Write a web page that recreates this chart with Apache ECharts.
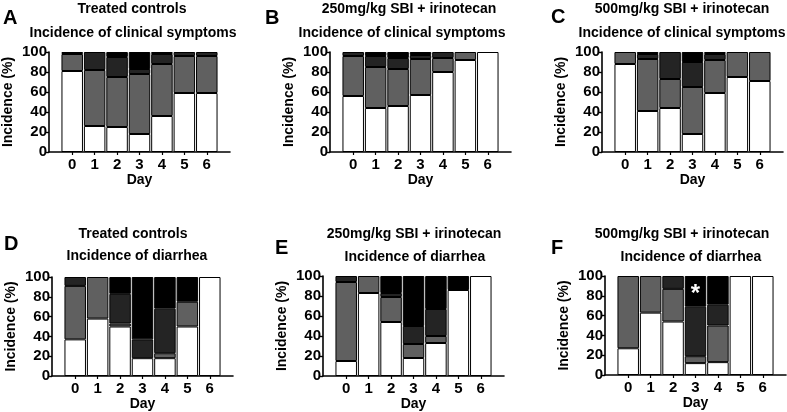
<!DOCTYPE html>
<html>
<head>
<meta charset="utf-8">
<script src="https://cdn.jsdelivr.net/npm/echarts@6/dist/echarts.min.js"></script>
<style>
html,body{margin:0;padding:0;background:#fff;}
#chart{width:787px;height:412px;}
</style>
</head>
<body>
<div id="chart"></div>
<script>
// ---- data ----
const days = ['0', '1', '2', '3', '4', '5', '6'];
const levelNames = ['None', 'Mild', 'Moderate', 'Severe'];
const levelColors = ['#ffffff', '#606060', '#242424', '#000000'];
const yMin = 0, yMax = 100, yStep = 20;

// A: Treated controls, clinical symptoms
const A_none = [81, 26, 25, 18, 36, 59, 59];
const A_mild = [17, 56, 50, 60, 52, 37, 37];
const A_mod  = [2, 18, 20, 5, 10, 4, 4];
const A_sev  = [0, 0, 5, 17, 2, 0, 0];
// B: 250mg/kg SBI + irinotecan, clinical symptoms
const B_none = [56, 44, 46, 57, 80, 92, 100];
const B_mild = [40, 41, 37, 36, 14, 8, 0];
const B_mod  = [4, 11, 11, 4, 6, 0, 0];
const B_sev  = [0, 4, 6, 3, 0, 0, 0];
// C: 500mg/kg SBI + irinotecan, clinical symptoms
const C_none = [88, 41, 44, 18, 59, 75, 71];
const C_mild = [12, 52, 29, 47, 33, 25, 29];
const C_mod  = [0, 5, 27, 25, 6, 0, 0];
const C_sev  = [0, 2, 0, 10, 2, 0, 0];
// D: Treated controls, diarrhea
const D_none = [37, 58, 50, 18, 18, 50, 100];
const D_mild = [54, 42, 3, 0, 5, 25, 0];
const D_mod  = [9, 0, 30, 19, 45, 0, 0];
const D_sev  = [0, 0, 17, 63, 32, 25, 0];
// E: 250mg/kg SBI + irinotecan, diarrhea
const E_none = [15, 83, 54, 18, 33, 86, 100];
const E_mild = [79, 17, 25, 14, 7, 0, 0];
const E_mod  = [6, 0, 4, 18, 27, 0, 0];
const E_sev  = [0, 0, 17, 50, 33, 14, 0];
// F: 500mg/kg SBI + irinotecan, diarrhea
const F_none = [27, 63, 54, 12, 13, 100, 100];
const F_mild = [73, 37, 33, 7, 37, 0, 0];
const F_mod  = [0, 0, 13, 50, 21, 0, 0];
const F_sev  = [0, 0, 0, 31, 29, 0, 0];
const F_marks = ['', '', '', '*', '', '', ''];

const panelLetters = ['A', 'B', 'C', 'D', 'E', 'F'];
const panelTitles = ['Treated controls', '250mg/kg SBI + irinotecan', '500mg/kg SBI + irinotecan',
                     'Treated controls', '250mg/kg SBI + irinotecan', '500mg/kg SBI + irinotecan'];
const panelSubtitles = ['Incidence of clinical symptoms', 'Incidence of clinical symptoms', 'Incidence of clinical symptoms',
                        'Incidence of diarrhea', 'Incidence of diarrhea', 'Incidence of diarrhea'];
const panelData = [
  [A_none, A_mild, A_mod, A_sev],
  [B_none, B_mild, B_mod, B_sev],
  [C_none, C_mild, C_mod, C_sev],
  [D_none, D_mild, D_mod, D_sev],
  [E_none, E_mild, E_mod, E_sev],
  [F_none, F_mild, F_mod, F_sev]
];
const panelMarks = [null, null, null, null, null, F_marks];
const xName = 'Day';
const yName = 'Incidence (%)';

// ---- layout (positions only) ----
const layout = [
  {axis: 49,  top: 52,  h: 100, t1: [132, 2],   t2: [133, 26],  L: [3, 8]},
  {axis: 330, top: 52,  h: 100, t1: [409, 2],   t2: [402, 26],  L: [265, 8]},
  {axis: 602, top: 52,  h: 100, t1: [682, 2],   t2: [682, 26],  L: [551, 7]},
  {axis: 52,  top: 277, h: 99,  t1: [133, 227], t2: [137, 249], L: [4, 234]},
  {axis: 323, top: 276, h: 100, t1: [414, 227], t2: [415, 250], L: [275, 238]},
  {axis: 605, top: 276, h: 99,  t1: [682, 227], t2: [691, 250], L: [551, 238]}
];
const PAD = 12, BARS_W = 157, AXIS_W = 181;
const FONT = 'Arial, "Liberation Sans", sans-serif';
const boldText = (size) => ({fontFamily: FONT, fontWeight: 'bold', fontSize: size, color: '#000'});

const grid = [], xAxis = [], yAxis = [], series = [], title = [];

layout.forEach((p, i) => {
  // inner grid: bars
  grid.push({left: p.axis + PAD, top: p.top, width: BARS_W, height: p.h});
  xAxis.push({
    type: 'category', gridIndex: i, data: days,
    axisLine: {show: false},
    axisTick: {show: true, alignWithLabel: true, length: 3, lineStyle: {color: '#000', width: 1.2}},
    axisLabel: Object.assign({margin: 5}, boldText(15)),
    name: xName, nameLocation: 'middle', nameGap: 21, nameTextStyle: boldText(14),
    splitLine: {show: false}
  });
  yAxis.push({
    type: 'value', gridIndex: i, min: yMin, max: yMax, interval: yStep, offset: PAD,
    axisLine: {show: true, lineStyle: {color: '#000', width: 1.6}},
    axisTick: {show: true, length: 3, lineStyle: {color: '#000', width: 1.4}},
    axisLabel: Object.assign({margin: 2}, boldText(15)),
    splitLine: {show: false},
    name: yName, nameLocation: 'middle', nameGap: 34, nameTextStyle: boldText(14)
  });
  // titles
  title.push({text: panelTitles[i], left: p.t1[0], top: p.t1[1], textAlign: 'center', padding: 0, textStyle: boldText(14)});
  title.push({text: panelSubtitles[i], left: p.t2[0], top: p.t2[1], textAlign: 'center', padding: 0, textStyle: boldText(14)});
  title.push({text: panelLetters[i], left: p.L[0], top: p.L[1], padding: 0, textStyle: boldText(20)});

  panelData[i].forEach((vals, k) => {
    const marks = panelMarks[i];
    series.push({
      type: 'bar', name: levelNames[k], xAxisIndex: i, yAxisIndex: i, stack: 'p' + i,
      barWidth: 21.5,
      itemStyle: {color: levelColors[k], borderColor: '#000', borderWidth: 1},
      data: vals.map((v, j) => {
        const item = {value: v === 0 ? '-' : v};
        if (marks && marks[j] && k === 3) {
          item.label = {show: true, formatter: marks[j], position: 'inside', offset: [0, 3],
                        color: '#fff', fontSize: 24, fontWeight: 'bold', fontFamily: FONT};
        }
        return item;
      }),
      animation: false
    });
  });
});

// outer grids: full-length x axis baseline
layout.forEach((p, i) => {
  const gi = grid.length;
  grid.push({left: p.axis, top: p.top, width: AXIS_W, height: p.h});
  xAxis.push({type: 'value', gridIndex: gi, min: 0, max: 1, axisLine: {show: true, lineStyle: {color: '#000', width: 1.6}},
              axisTick: {show: false}, axisLabel: {show: false}, splitLine: {show: false}});
  yAxis.push({type: 'value', gridIndex: gi, min: 0, max: 1, show: false});
});

const chart = echarts.init(document.getElementById('chart'), null, {renderer: 'canvas'});
chart.setOption({backgroundColor: '#fff', animation: false, title, grid, xAxis, yAxis, series});
</script>
</body>
</html>
